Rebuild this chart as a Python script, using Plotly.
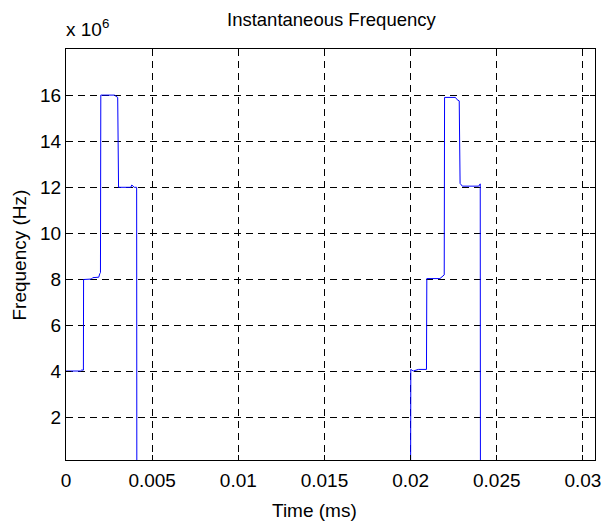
import plotly.graph_objects as go

# Data (time in ms-axis units, frequency in units of 1e6 Hz)
time_ms = [0.0, 0.00084, 0.00090, 0.00101, 0.00102, 0.00147, 0.00155, 0.00190, 0.00196,
           0.00200, 0.00202, 0.00281, 0.00290, 0.00300, 0.00305, 0.00376, 0.00382, 0.00390,
           0.00396, 0.00410, 0.00411, 0.02000, 0.02001, 0.02015, 0.02030, 0.02045, 0.02092,
           0.02094, 0.02170, 0.02188, 0.02195, 0.02197, 0.02260, 0.02270, 0.02282, 0.02287,
           0.02300, 0.02395, 0.02400, 0.02404, 0.02405, 0.0307]
freq_1e6 = [4.03, 4.03, 4.07, 4.07, 8.0, 8.02, 8.08, 8.10, 8.25,
            8.30, 16.0, 16.0, 15.95, 15.9, 12.0, 12.0, 12.1, 12.05,
            12.0, 12.0, 0.0, 0.0, 4.1, 4.03, 4.05, 4.1, 4.1,
            8.04, 8.04, 8.15, 8.2, 15.9, 15.9, 15.8, 15.75, 12.17,
            12.05, 12.05, 12.15, 12.15, 0.0, 0.0]

x_ticks = [0, 0.005, 0.01, 0.015, 0.02, 0.025, 0.03]
x_tick_labels = ["0", "0.005", "0.01", "0.015", "0.02", "0.025", "0.03"]
y_ticks = [2, 4, 6, 8, 10, 12, 14, 16]
y_tick_labels = ["2", "4", "6", "8", "10", "12", "14", "16"]

FONT = "Liberation Sans, Arial, sans-serif"

fig = go.Figure()
fig.add_trace(go.Scatter(x=time_ms, y=freq_1e6, mode="lines",
                         line=dict(color="#0000FF", width=1), showlegend=False,
                         hoverinfo="skip"))

axis_common = dict(showline=True, linecolor="black", linewidth=1, mirror="allticks",
                   ticks="inside", ticklen=5, tickcolor="black", tickwidth=1,
                   showgrid=True, gridcolor="black", gridwidth=1, griddash="7px,5px",
                   zeroline=False, tickfont=dict(family=FONT, size=19, color="black"))

fig.update_xaxes(range=[0, 0.0307], tickvals=x_ticks, ticktext=x_tick_labels,
                 ticklabelstandoff=3, **axis_common)
fig.update_yaxes(range=[0.17, 18.0], tickvals=y_ticks, ticktext=y_tick_labels, **axis_common)

W, H = 609, 528
L, R, T, B = 66, 8, 49, 68

def px(xp):
    return (xp - L) / (W - L - R)

def py(yp):
    return (H - B - yp) / (H - T - B)

fig.update_layout(
    width=W, height=H,
    margin=dict(l=L, r=R, t=T, b=B, pad=0),
    paper_bgcolor="white", plot_bgcolor="white",
    font=dict(family=FONT, color="black"),
    annotations=[
        dict(text="Instantaneous Frequency", x=px(335), y=py(20), xref="paper", yref="paper",
             showarrow=False, xanchor="center", yanchor="middle",
             font=dict(family=FONT, size=18.5, color="black")),
        dict(text="x 10<sup>6</sup>", x=px(64), y=py(28), xref="paper", yref="paper",
             showarrow=False, xanchor="left", yanchor="middle",
             font=dict(family=FONT, size=19, color="black")),
        dict(text="Time (ms)", x=px(317), y=py(510), xref="paper", yref="paper",
             showarrow=False, xanchor="center", yanchor="middle",
             font=dict(family=FONT, size=19, color="black")),
        dict(text="Frequency (Hz)", x=px(18), y=py(255), xref="paper", yref="paper",
             showarrow=False, xanchor="center", yanchor="middle", textangle=-90,
             font=dict(family=FONT, size=19, color="black")),
    ],
)

fig.write_html("out.html")
